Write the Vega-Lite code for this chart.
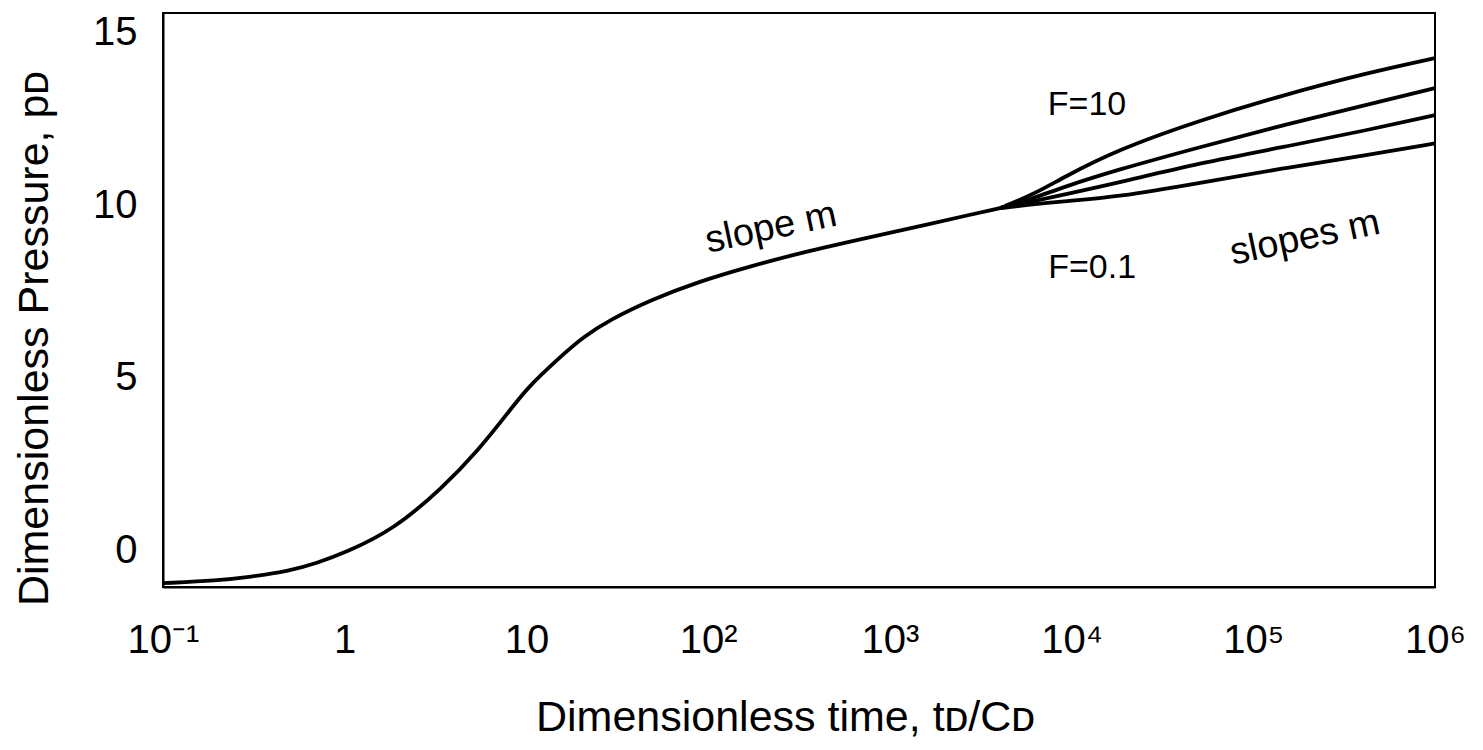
{
  "$schema": "https://vega.github.io/schema/vega-lite/v6.json",
  "autosize": {"type": "none"},
  "padding": {"left": 163, "top": 13, "right": 48, "bottom": 163},
  "width": 1272,
  "height": 574,
  "background": "white",
  "config": {
    "font": "Liberation Sans",
    "view": {"stroke": "black", "strokeWidth": 2},
    "axis": {"grid": false, "domainColor": "black", "domainWidth": 2, "labelColor": "black", "titleColor": "black", "labelFont": "Liberation Sans", "titleFont": "Liberation Sans", "titleFontWeight": "normal"}
  },
  "datasets": {
    "curves": [
      {"series": "base", "t": 0.1, "pD": -0.96},
      {"series": "base", "t": 0.2, "pD": -0.88},
      {"series": "base", "t": 0.3, "pD": -0.78},
      {"series": "base", "t": 0.5, "pD": -0.6},
      {"series": "base", "t": 0.7, "pD": -0.38},
      {"series": "base", "t": 1.0, "pD": -0.08},
      {"series": "base", "t": 1.85, "pD": 0.58},
      {"series": "base", "t": 3.47, "pD": 1.82},
      {"series": "base", "t": 5.35, "pD": 2.85},
      {"series": "base", "t": 8.13, "pD": 4.06},
      {"series": "base", "t": 10.07, "pD": 4.7},
      {"series": "base", "t": 15.3, "pD": 5.6},
      {"series": "base", "t": 20.5, "pD": 6.18},
      {"series": "base", "t": 28.8, "pD": 6.68},
      {"series": "base", "t": 48, "pD": 7.25},
      {"series": "base", "t": 90, "pD": 7.8},
      {"series": "base", "t": 170, "pD": 8.23},
      {"series": "base", "t": 321, "pD": 8.62},
      {"series": "base", "t": 750, "pD": 9.06},
      {"series": "base", "t": 1730, "pD": 9.48},
      {"series": "base", "t": 2660, "pD": 9.71},
      {"series": "base", "t": 4040, "pD": 9.92},
      {"series": "F=10", "t": 4040, "pD": 9.92},
      {"series": "F=10", "t": 6140, "pD": 10.31},
      {"series": "F=10", "t": 9000, "pD": 10.81},
      {"series": "F=10", "t": 17800, "pD": 11.61},
      {"series": "F=10", "t": 50900, "pD": 12.47},
      {"series": "F=10", "t": 146000, "pD": 13.2},
      {"series": "F=10", "t": 423000, "pD": 13.84},
      {"series": "F=10", "t": 1000000, "pD": 14.27},
      {"series": "F=3", "t": 4040, "pD": 9.92},
      {"series": "F=3", "t": 6140, "pD": 10.2},
      {"series": "F=3", "t": 9000, "pD": 10.53},
      {"series": "F=3", "t": 17800, "pD": 11.03},
      {"series": "F=3", "t": 50900, "pD": 11.69},
      {"series": "F=3", "t": 146000, "pD": 12.33},
      {"series": "F=3", "t": 423000, "pD": 12.92},
      {"series": "F=3", "t": 1000000, "pD": 13.4},
      {"series": "F=1", "t": 4040, "pD": 9.92},
      {"series": "F=1", "t": 6140, "pD": 10.12},
      {"series": "F=1", "t": 9000, "pD": 10.31},
      {"series": "F=1", "t": 17800, "pD": 10.65},
      {"series": "F=1", "t": 50900, "pD": 11.23},
      {"series": "F=1", "t": 146000, "pD": 11.69},
      {"series": "F=1", "t": 423000, "pD": 12.18},
      {"series": "F=1", "t": 1000000, "pD": 12.62},
      {"series": "F=0.1", "t": 4040, "pD": 9.92},
      {"series": "F=0.1", "t": 6140, "pD": 10.03},
      {"series": "F=0.1", "t": 9000, "pD": 10.12},
      {"series": "F=0.1", "t": 17800, "pD": 10.24},
      {"series": "F=0.1", "t": 50900, "pD": 10.65},
      {"series": "F=0.1", "t": 146000, "pD": 11.08},
      {"series": "F=0.1", "t": 423000, "pD": 11.46},
      {"series": "F=0.1", "t": 1000000, "pD": 11.8}
    ],
    "slopes": [
      {"t": 222, "pD": 9.34, "label": "slope m"},
      {"t": 192800, "pD": 9.05, "label": "slopes m"}
    ],
    "flabels": [
      {"t": 12160, "pD": 12.91, "label": "F=10"},
      {"t": 12970, "pD": 8.18, "label": "F=0.1"}
    ]
  },
  "layer": [
    {
      "data": {"name": "curves"},
      "mark": {"type": "line", "color": "black", "strokeWidth": 3.8, "interpolate": "basis", "clip": true},
      "encoding": {
        "x": {
          "field": "t", "type": "quantitative",
          "scale": {"type": "log", "domain": [0.1, 1000000], "nice": false},
          "axis": {
            "values": [0.1, 1, 10, 100, 1000, 10000, 100000, 1000000],
            "labelExpr": "datum.value < 0.5 ? '10⁻¹' : datum.value < 5 ? '1' : datum.value < 50 ? '10' : datum.value < 500 ? '10²' : datum.value < 5000 ? '10³' : datum.value < 50000 ? '10⁴' : datum.value < 500000 ? '10⁵' : '10⁶'",
            "ticks": false,
            "labelFontSize": 40,
            "labelPadding": 33,
            "labelFlush": false,
            "title": "Dimensionless time, tᴅ/Cᴅ",
            "titleFontSize": 43,
            "titlePadding": 36,
            "titleX": 622
          }
        },
        "y": {
          "field": "pD", "type": "quantitative",
          "scale": {"domain": [-1.07, 15.58], "nice": false, "zero": false},
          "axis": {
            "values": [0, 5, 10, 15],
            "ticks": false,
            "labelFontSize": 40,
            "labelPadding": 26,
            "title": "Dimensionless Pressure, pᴅ",
            "titleFontSize": 43,
            "titlePadding": 36,
            "titleY": 325
          }
        },
        "detail": {"field": "series", "type": "nominal"}
      }
    },
    {
      "data": {"name": "slopes"},
      "mark": {"type": "text", "angle": -12, "fontSize": 38, "color": "black", "font": "Liberation Sans"},
      "encoding": {
        "x": {"field": "t", "type": "quantitative"},
        "y": {"field": "pD", "type": "quantitative"},
        "text": {"field": "label"}
      }
    },
    {
      "data": {"name": "flabels"},
      "mark": {"type": "text", "fontSize": 34, "color": "black", "font": "Liberation Sans"},
      "encoding": {
        "x": {"field": "t", "type": "quantitative"},
        "y": {"field": "pD", "type": "quantitative"},
        "text": {"field": "label"}
      }
    }
  ]
}
